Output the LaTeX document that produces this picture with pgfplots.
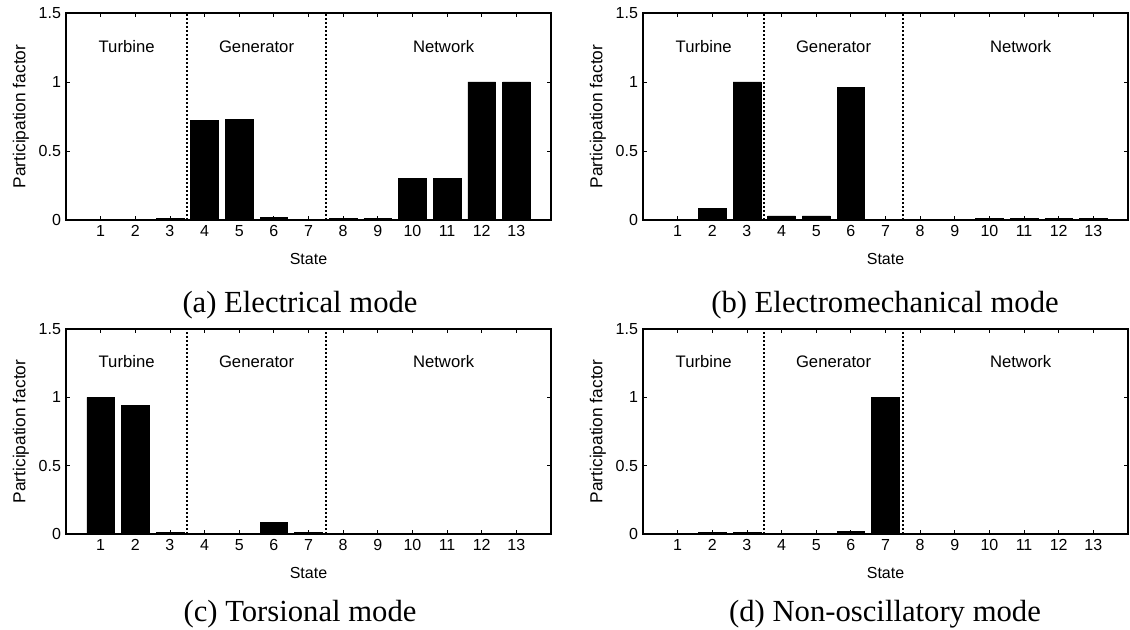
\documentclass[border=0pt]{standalone}
\usepackage{fontspec}
\setmainfont{Liberation Serif}
\newfontfamily\arial{Liberation Sans}
\usepackage{pgfplots}
\pgfplotsset{compat=1.18}
\pgfplotsset{pf/.style={
  scale only axis, width=363.75pt,
  xmin=0, xmax=14, ymin=0, ymax=1.5,
  xtick={1,...,13}, ytick={0,0.5,1,1.5}, yticklabels={0,0.5,1,1.5},
  tick align=inside, xtick pos=both, ytick pos=both,
  major tick length=3pt,
  line width=0.9pt,
  every tick/.style={black, line width=0.6pt},
  tick label style={font=\arial\fontsize{12}{14}\selectfont},
  xlabel style={font=\arial\fontsize{12}{14}\selectfont, at={(axis description cs:0.5,-0.19)}, anchor=center},
  ylabel style={font=\arial\fontsize{13}{15}\selectfont, at={(axis description cs:-0.093,0.5)}, anchor=center},
  /pgf/number format/assume math mode=true,
  xlabel={State}, ylabel={Participation factor},
  clip=false,
}}
\newcommand{\regions}{%
  \draw[line width=1.5pt, dash pattern=on 1.5pt off 1.5pt] (axis cs:3.5,0) -- (axis cs:3.5,1.5);
  \draw[line width=1.5pt, dash pattern=on 1.5pt off 1.5pt] (axis cs:7.5,0) -- (axis cs:7.5,1.5);
  \node[anchor=base, font=\arial\fontsize{12.5}{14}\selectfont] at (axis cs:1.75,1.215) {Turbine};
  \node[anchor=base, font=\arial\fontsize{12.5}{14}\selectfont] at (axis cs:5.5,1.215) {Generator};
  \node[anchor=base, font=\arial\fontsize{12.5}{14}\selectfont] at (axis cs:10.9,1.215) {Network};
}
\tikzset{barstyle/.style={ybar, bar width=0.8, fill=black, draw=black, line width=0.4pt}}
\begin{document}
\begin{tikzpicture}
\path[use as bounding box] (0,0) rectangle (847.5pt,472.5pt);
% (a)
\begin{axis}[pf, height=155.25pt, at={(49.5pt,307.5pt)}, anchor=south west]
\addplot[barstyle] coordinates {(1,0.002) (2,0.003) (3,0.01) (4,0.724) (5,0.731) (6,0.02) (7,0.003) (8,0.01) (9,0.01) (10,0.30) (11,0.30) (12,1.0) (13,1.0)};
\regions
\end{axis}
% (b)
\begin{axis}[pf, height=155.25pt, at={(482.25pt,307.5pt)}, anchor=south west]
\addplot[barstyle] coordinates {(1,0.003) (2,0.082) (3,1.0) (4,0.03) (5,0.03) (6,0.961) (7,0.002) (8,0.003) (9,0.003) (10,0.01) (11,0.01) (12,0.01) (13,0.01)};
\regions
\end{axis}
% (c)
\begin{axis}[pf, height=153.75pt, at={(49.5pt,72pt)}, anchor=south west]
\addplot[barstyle] coordinates {(1,1.0) (2,0.94) (3,0.01) (4,0.002) (5,0.002) (6,0.084) (7,0.01) (8,0.001) (9,0.001) (10,0.001) (11,0.001) (12,0.001) (13,0.001)};
\regions
\end{axis}
% (d)
\begin{axis}[pf, height=153.75pt, at={(482.25pt,72pt)}, anchor=south west]
\addplot[barstyle] coordinates {(1,0.002) (2,0.01) (3,0.01) (4,0.002) (5,0.002) (6,0.02) (7,1.0) (8,0.001) (9,0.001) (10,0.001) (11,0.001) (12,0.001) (13,0.001)};
\regions
\end{axis}
\node[anchor=base, font=\fontsize{23}{27}\selectfont] at (225pt,238pt) {(a) Electrical mode};
\node[anchor=base, font=\fontsize{23}{27}\selectfont] at (663.75pt,238pt) {(b) Electromechanical mode};
\node[anchor=base, font=\fontsize{23}{27}\selectfont] at (225pt,6pt) {(c) Torsional mode};
\node[anchor=base, font=\fontsize{23}{27}\selectfont] at (663.75pt,6pt) {(d) Non-oscillatory mode};
\end{tikzpicture}
\end{document}
